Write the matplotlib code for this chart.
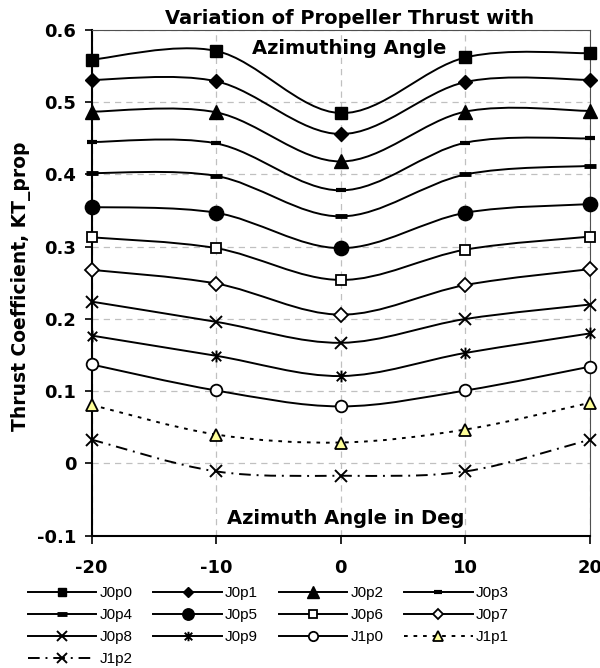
import numpy as np
import matplotlib
matplotlib.use("Agg")
import matplotlib.pyplot as plt
from matplotlib.path import Path
from matplotlib.patches import PathPatch
from matplotlib.lines import Line2D

# ---------------- data ----------------
angles = [-20, -10, 0, 10, 20]
J0p0 = [0.559, 0.571, 0.485, 0.562, 0.568]
J0p1 = [0.531, 0.529, 0.456, 0.528, 0.531]
J0p2 = [0.487, 0.486, 0.418, 0.487, 0.488]
J0p3 = [0.445, 0.443, 0.378, 0.444, 0.450]
J0p4 = [0.402, 0.398, 0.342, 0.400, 0.412]
J0p5 = [0.355, 0.347, 0.298, 0.347, 0.359]
J0p6 = [0.313, 0.298, 0.254, 0.296, 0.314]
J0p7 = [0.268, 0.249, 0.206, 0.247, 0.269]
J0p8 = [0.224, 0.196, 0.167, 0.200, 0.220]
J0p9 = [0.177, 0.149, 0.121, 0.153, 0.180]
J1p0 = [0.137, 0.101, 0.079, 0.101, 0.134]
J1p1 = [0.081, 0.040, 0.029, 0.047, 0.084]
J1p2 = [0.033, -0.011, -0.017, -0.011, 0.033]

series_names = ["J0p0", "J0p1", "J0p2", "J0p3", "J0p4", "J0p5", "J0p6",
                "J0p7", "J0p8", "J0p9", "J1p0", "J1p1", "J1p2"]
series_values = [J0p0, J0p1, J0p2, J0p3, J0p4, J0p5, J0p6,
                 J0p7, J0p8, J0p9, J1p0, J1p1, J1p2]

x_ticks = [-20, -10, 0, 10, 20]
x_ticklabels = ["-20", "-10", "0", "10", "20"]
y_ticks = [-0.1, 0, 0.1, 0.2, 0.3, 0.4, 0.5, 0.6]
y_ticklabels = ["-0.1", "0", "0.1", "0.2", "0.3", "0.4", "0.5", "0.6"]

title_lines = ["Variation of Propeller Thrust with", "Azimuthing Angle"]
x_label = "Azimuth Angle in Deg"
y_label = "Thrust Coefficient, KT_prop"

# ---------------- styles ----------------
asterisk = Path([(0, -1), (0, 1), (-0.8, -0.8), (0.8, 0.8), (-0.8, 0.8), (0.8, -0.8)],
                [Path.MOVETO, Path.LINETO, Path.MOVETO, Path.LINETO, Path.MOVETO, Path.LINETO])

LW = 1.4
styles = [
    dict(marker="s", ms=8.0, mfc="k", mec="k", mew=1.0, ls="-"),
    dict(marker="D", ms=7.0, mfc="k", mec="k", mew=1.0, ls="-"),
    dict(marker="^", ms=10.5, mfc="k", mec="k", mew=1.0, ls="-"),
    dict(marker="_", ms=7.0, mfc="k", mec="k", mew=3.0, ls="-"),
    dict(marker="_", ms=9.0, mfc="k", mec="k", mew=3.5, ls="-"),
    dict(marker="o", ms=10.3, mfc="k", mec="k", mew=1.0, ls="-"),
    dict(marker="s", ms=7.0, mfc="white", mec="k", mew=1.3, ls="-"),
    dict(marker="D", ms=7.0, mfc="white", mec="k", mew=1.3, ls="-"),
    dict(marker="x", ms=8.5, mfc="k", mec="k", mew=1.4, ls="-"),
    dict(marker=asterisk, ms=8.5, mfc="none", mec="k", mew=1.4, ls="-"),
    dict(marker="o", ms=8.4, mfc="white", mec="k", mew=1.3, ls="-"),
    dict(marker="^", ms=9.0, mfc="#FFFF99", mec="k", mew=1.3, ls=(0, (1.9, 3.0))),
    dict(marker="x", ms=8.5, mfc="k", mec="k", mew=1.4, ls=(0, (6.0, 3.0, 1.0, 3.0))),
]


def smooth_path(xs, ys):
    P = np.column_stack([xs, ys]).astype(float)
    n = len(P)
    verts = [P[0]]
    codes = [Path.MOVETO]
    for i in range(n - 1):
        p0 = P[i - 1] if i > 0 else P[i]
        p1 = P[i]
        p2 = P[i + 1]
        p3 = P[i + 2] if i + 2 < n else P[i + 1]
        c1 = p1 + (p2 - p0) / 6.0
        c2 = p2 - (p3 - p1) / 6.0
        verts += [c1, c2, p2]
        codes += [Path.CURVE4] * 3
    return Path(verts, codes)


# ---------------- figure ----------------
fig = plt.figure(figsize=(6.0, 6.68), dpi=100)
ax = fig.add_axes([91.7 / 600, 1 - 535.7 / 668, (590 - 91.7) / 600, (535.7 - 30) / 668])

ax.set_xlim(-20, 20)
ax.set_ylim(-0.1, 0.6)

ax.set_xticks(x_ticks)
ax.set_yticks(y_ticks)
ax.set_xticklabels(x_ticklabels, fontsize=13, fontweight="bold", family="DejaVu Sans")
ax.set_yticklabels(y_ticklabels, fontsize=13, fontweight="bold", family="DejaVu Sans")
ax.tick_params(axis="y", direction="out", length=5, width=1.2, pad=6)
ax.tick_params(axis="x", direction="out", length=6, width=1.2, pad=11)

ax.grid(True, color="#c0c0c0", linestyle=(0, (5, 4)), linewidth=0.9, zorder=0)
ax.set_axisbelow(True)

for s in ["left", "bottom"]:
    ax.spines[s].set_linewidth(1.5)
    ax.spines[s].set_color("k")
for s in ["top", "right"]:
    ax.spines[s].set_linewidth(0.8)
    ax.spines[s].set_color("#505050")

handles = []
for k, (name, vals, st) in enumerate(zip(series_names, series_values, styles)):
    patch = PathPatch(smooth_path(angles, vals), facecolor="none", edgecolor="k",
                      lw=LW, linestyle=st["ls"], capstyle="butt", zorder=3 + 2 * k)
    ax.add_patch(patch)
    ax.plot(angles, vals, linestyle="none", marker=st["marker"], ms=st["ms"],
            mfc=st["mfc"], mec=st["mec"], mew=st["mew"], zorder=4 + 2 * k, clip_on=False)
    handles.append(Line2D([], [], color="k", lw=LW, linestyle=st["ls"],
                          marker=st["marker"], ms=st["ms"], mfc=st["mfc"],
                          mec=st["mec"], mew=st["mew"], label=name))

# titles / labels
fig.text(349.5 / 600, 1 - 24 / 668, title_lines[0], ha="center", va="baseline",
         fontsize=14, fontweight="bold", family="DejaVu Sans")
fig.text(349.5 / 600, 1 - 54 / 668, title_lines[1], ha="center", va="baseline",
         fontsize=14, fontweight="bold", family="DejaVu Sans")
fig.text(346 / 600, 1 - 524 / 668, x_label, ha="center", va="baseline",
         fontsize=14, fontweight="bold", family="DejaVu Sans")
fig.text(21 / 600, 1 - 286 / 668, y_label, ha="center", va="center", rotation=90,
         fontsize=13.5, fontweight="bold", family="DejaVu Sans")

# legend (column-major fill reordered so it reads row-wise)
order = [0, 4, 8, 12, 1, 5, 9, 2, 6, 10, 3, 7, 11]
leg = fig.legend([handles[i] for i in order], [series_names[i] for i in order],
                 ncol=4, loc="upper left", bbox_to_anchor=(27.7 / 600, 1 - 586.5 / 668),
                 bbox_transform=fig.transFigure, frameon=False,
                 handlelength=4.5, handletextpad=0.2, columnspacing=1.35,
                 labelspacing=0.52, borderpad=0, borderaxespad=0,
                 markerscale=0.8, prop={"family": "Liberation Sans", "size": 11})

fig.savefig("out.png", dpi=100)
